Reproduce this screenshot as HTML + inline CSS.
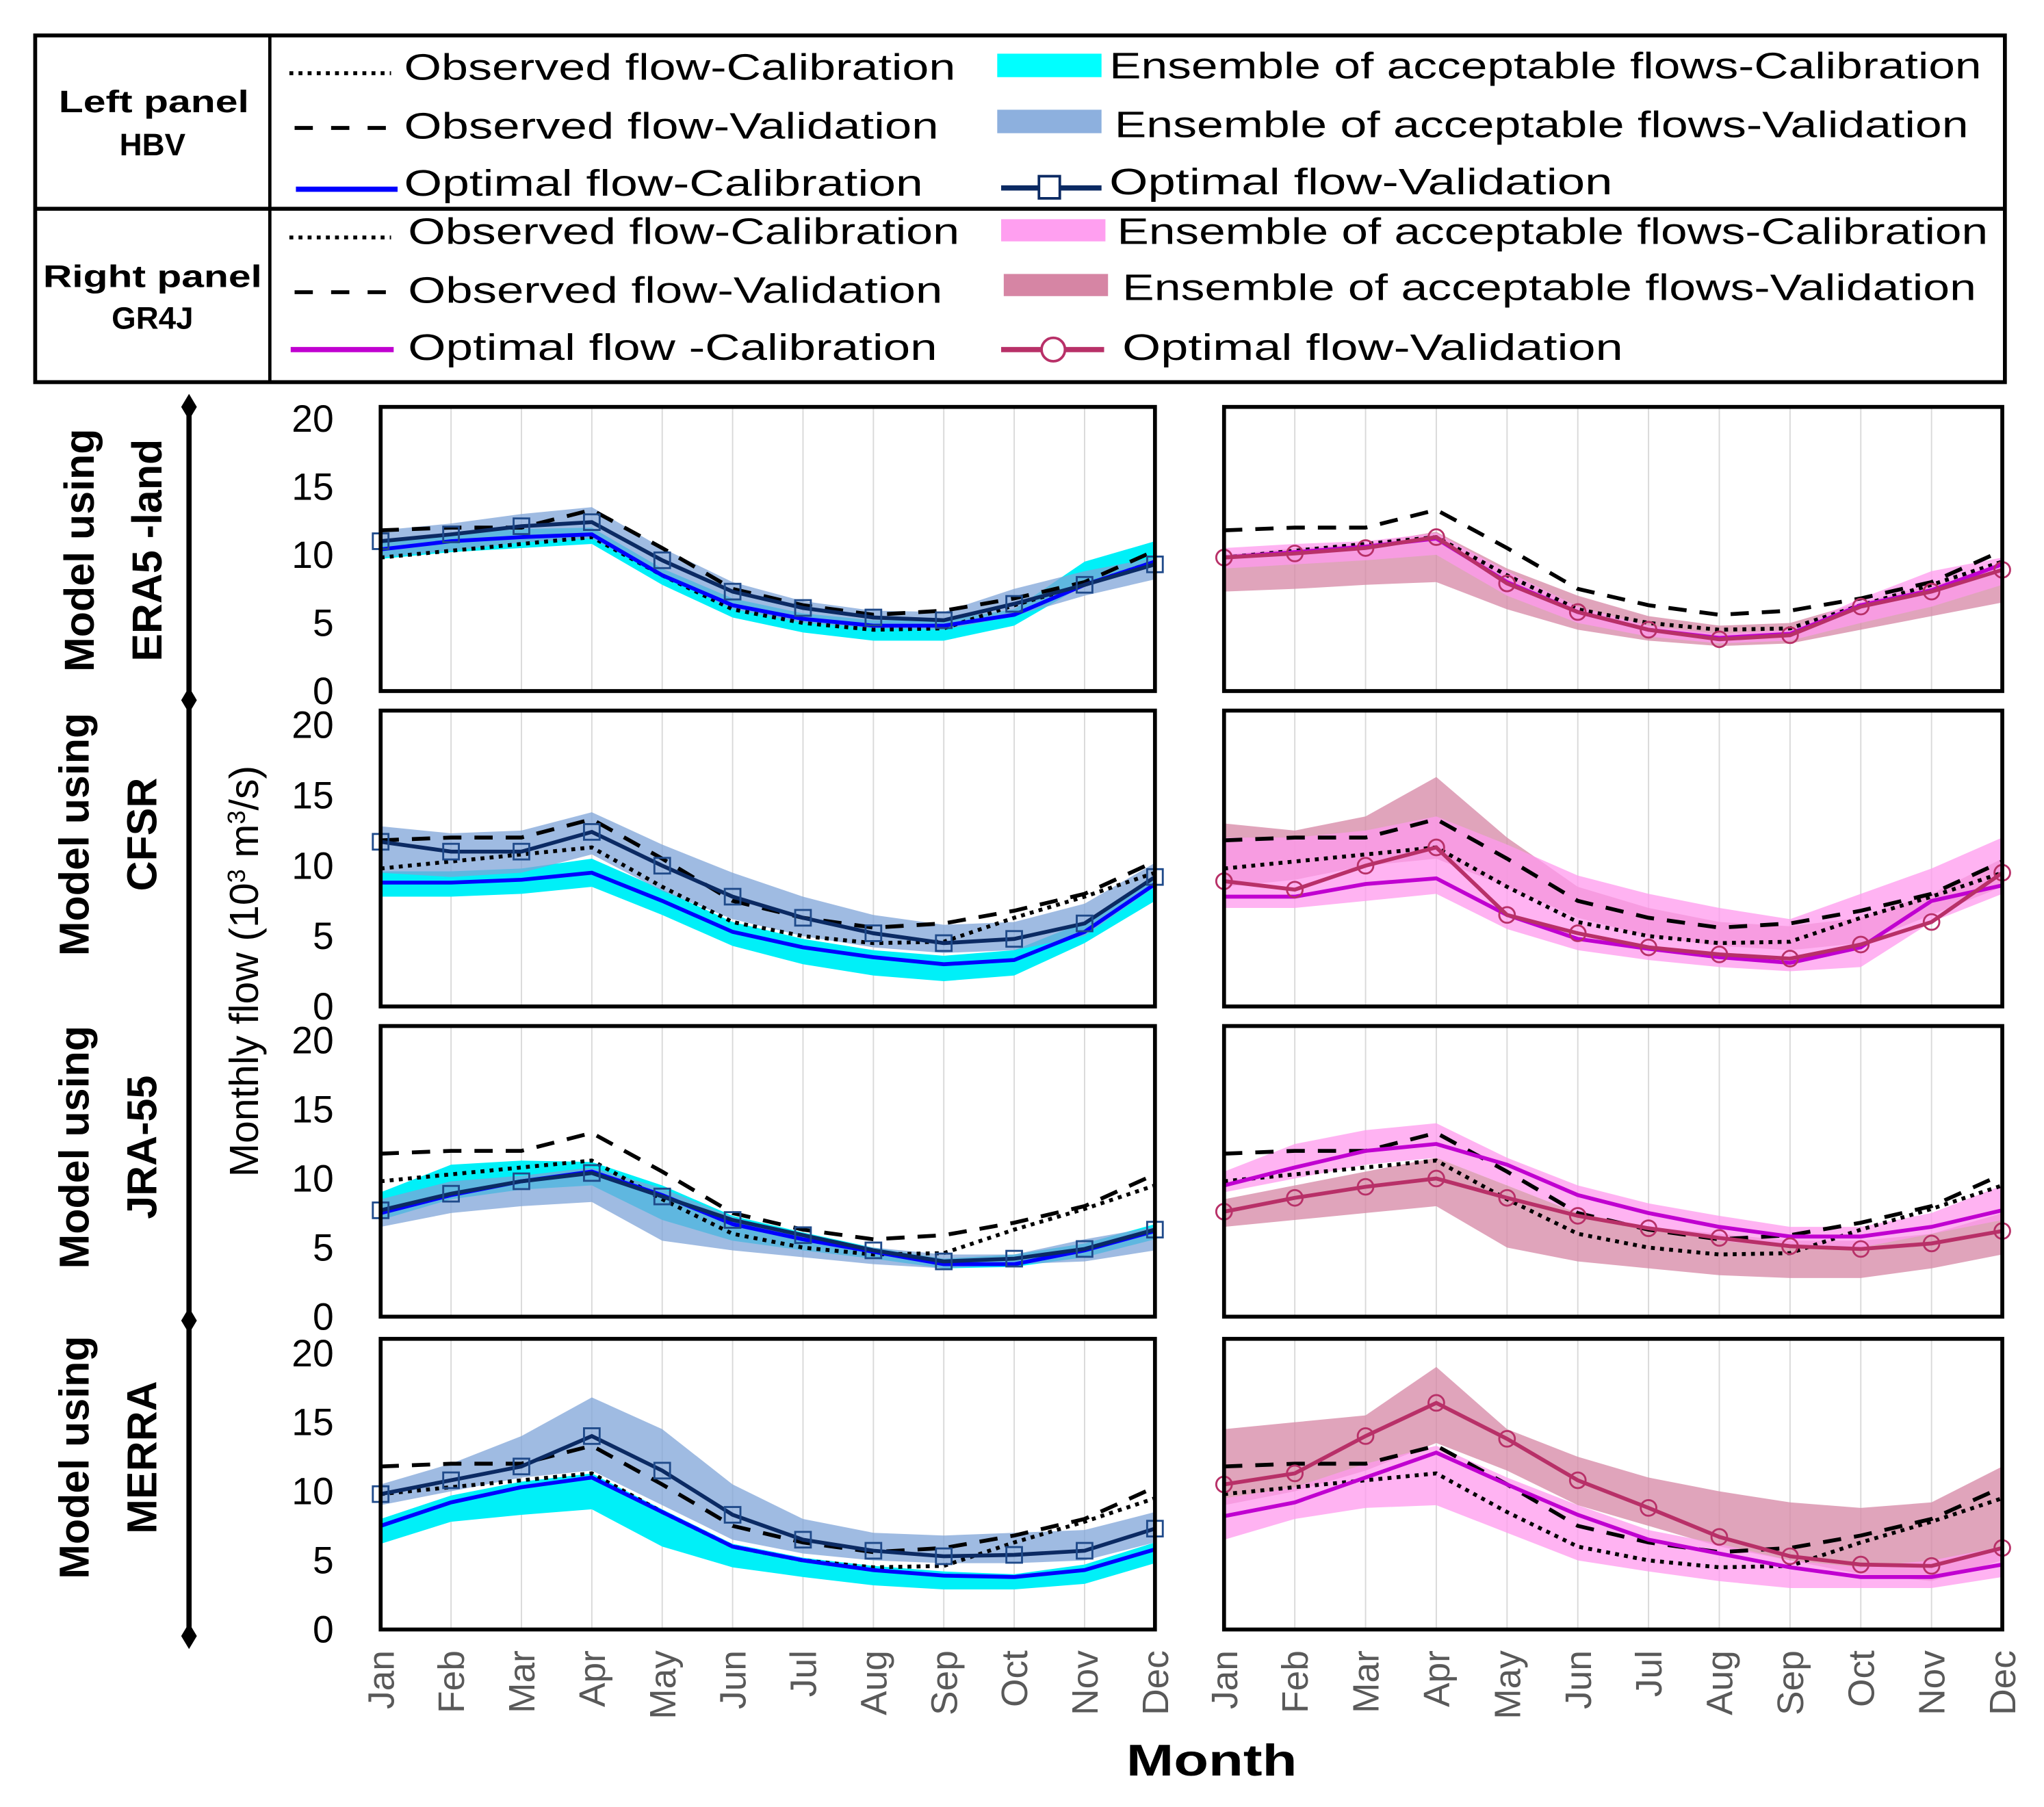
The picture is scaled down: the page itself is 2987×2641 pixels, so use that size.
<!DOCTYPE html>
<html><head><meta charset="utf-8"><style>
html,body{margin:0;padding:0;background:#fff}
svg{display:block}
text{font-family:"Liberation Sans",sans-serif}
</style></head><body>
<svg id="chart" width="2987" height="2641" viewBox="0 0 1568 1386" xmlns="http://www.w3.org/2000/svg">
<g id="legend">
<rect x="27" y="27" width="1511" height="266" fill="#fff" stroke="#000" stroke-width="3"/>
<line x1="27" y1="160" x2="1538" y2="160" stroke="#000" stroke-width="3"/>
<line x1="207" y1="27" x2="207" y2="293" stroke="#000" stroke-width="2.5"/>
<text x="45" y="86" font-size="24" font-weight="bold" textLength="146" lengthAdjust="spacingAndGlyphs">Left panel</text>
<text x="117" y="119" font-size="24" font-weight="bold" text-anchor="middle">HBV</text>
<text x="33" y="220" font-size="24" font-weight="bold" textLength="168" lengthAdjust="spacingAndGlyphs">Right panel</text>
<text x="117" y="252" font-size="24" font-weight="bold" text-anchor="middle">GR4J</text>
<g font-size="28">
<line x1="222" y1="56" x2="300" y2="56" stroke="#000" stroke-width="3" stroke-dasharray="3,4"/>
<text x="310" y="61" textLength="423" lengthAdjust="spacingAndGlyphs">Observed flow-Calibration</text>
<line x1="226" y1="98" x2="296" y2="98" stroke="#000" stroke-width="3" stroke-dasharray="14,14"/>
<text x="310" y="106" textLength="410" lengthAdjust="spacingAndGlyphs">Observed flow-Validation</text>
<line x1="227" y1="145" x2="305" y2="145" stroke="#0000ff" stroke-width="4"/>
<text x="310" y="150" textLength="398" lengthAdjust="spacingAndGlyphs">Optimal flow-Calibration</text>
<rect x="765" y="41" width="80" height="18" fill="#00ffff"/>
<text x="851" y="60" textLength="669" lengthAdjust="spacingAndGlyphs">Ensemble of acceptable flows-Calibration</text>
<rect x="765" y="84" width="80" height="18" fill="#8db0de"/>
<text x="855" y="105" textLength="655" lengthAdjust="spacingAndGlyphs">Ensemble of acceptable flows-Validation</text>
<line x1="768" y1="144" x2="845" y2="144" stroke="#0b2a63" stroke-width="4"/>
<rect x="797" y="135" width="16" height="17" fill="#fff" stroke="#0b2a63" stroke-width="2"/>
<text x="851" y="149" textLength="386" lengthAdjust="spacingAndGlyphs">Optimal flow-Validation</text>
<line x1="222" y1="182" x2="300" y2="182" stroke="#000" stroke-width="3" stroke-dasharray="3,4"/>
<text x="313" y="187" textLength="423" lengthAdjust="spacingAndGlyphs">Observed flow-Calibration</text>
<line x1="226" y1="224" x2="296" y2="224" stroke="#000" stroke-width="3" stroke-dasharray="14,14"/>
<text x="313" y="232" textLength="410" lengthAdjust="spacingAndGlyphs">Observed flow-Validation</text>
<line x1="223" y1="268" x2="302" y2="268" stroke="#c000d0" stroke-width="4"/>
<text x="313" y="276" textLength="406" lengthAdjust="spacingAndGlyphs">Optimal flow -Calibration</text>
<rect x="768" y="168" width="80" height="17" fill="#ff9ff0"/>
<text x="857" y="187" textLength="668" lengthAdjust="spacingAndGlyphs">Ensemble of acceptable flows-Calibration</text>
<rect x="770" y="210" width="80" height="17" fill="#d685a4"/>
<text x="861" y="230" textLength="655" lengthAdjust="spacingAndGlyphs">Ensemble of acceptable flows-Validation</text>
<line x1="768" y1="268" x2="847" y2="268" stroke="#b83068" stroke-width="4"/>
<circle cx="808" cy="268" r="9" fill="#fff" stroke="#b83068" stroke-width="2"/>
<text x="861" y="276" textLength="384" lengthAdjust="spacingAndGlyphs">Optimal flow-Validation</text>
</g>
</g>
<g id="side">
<line x1="145" y1="312" x2="145" y2="1255" stroke="#000" stroke-width="4"/>
<g fill="#000"><path d="M145 302l6 10-6 10-6-10z"/><path d="M145 527l6 10-6 10-6-10z"/><path d="M145 1003l6 10-6 10-6-10z"/><path d="M145 1245l6 10-6 10-6-10z"/></g>
<g font-size="32" font-weight="bold" text-anchor="middle">
<text transform="translate(72,422) rotate(-90)">Model using</text><text transform="translate(124,422) rotate(-90)">ERA5 -land</text>
<text transform="translate(68,640) rotate(-90)">Model using</text><text transform="translate(120,640) rotate(-90)">CFSR</text>
<text transform="translate(68,880) rotate(-90)">Model using</text><text transform="translate(120,880) rotate(-90)">JRA-55</text>
<text transform="translate(68,1118) rotate(-90)">Model using</text><text transform="translate(120,1118) rotate(-90)">MERRA</text>
</g>
<text transform="translate(198,745) rotate(-90)" font-size="31" text-anchor="middle">Monthly flow (10<tspan font-size="19" dy="-10">3</tspan><tspan dy="10"> m</tspan><tspan font-size="19" dy="-10">3</tspan><tspan dy="10">/s)</tspan></text>
<text x="864" y="1362" font-size="34" font-weight="bold" textLength="131" lengthAdjust="spacingAndGlyphs">Month</text>
</g>
<g id="panels"></g>
</svg>
<script>
const months=["Jan","Feb","Mar","Apr","May","Jun","Jul","Aug","Sep","Oct","Nov","Dec"];
const yTicks=[0,5,10,15,20];
const obsCal=[9.8,10.3,10.8,11.3,8.5,6,5,4.5,4.6,6.3,7.8,9.5];
const obsVal=[11.8,12,12,13.3,10.5,7.5,6.3,5.6,5.9,6.8,8,10.3];
// Left (HBV) rows
const hbvOptCal=[[10.4,11,11.3,11.5,8.5,6.3,5.3,4.8,4.8,5.6,7.8,9.5],[8.8,8.8,9,9.5,7.5,5.3,4.2,3.5,3,3.3,5.3,8.7],[7.5,8.8,9.8,10.5,8.8,6.7,5.6,4.7,3.8,3.8,4.8,6.2],[7.5,9.2,10.3,11,8.5,6,5,4.3,3.9,3.8,4.3,5.8]];
const hbvOptVal=[[11,11.5,12.1,12.4,9.6,7.3,6.1,5.4,5.2,6.4,7.8,9.3],[11.7,11,11,12.4,10,7.8,6.3,5.2,4.5,4.8,5.9,9.2],[7.7,8.9,9.8,10.4,8.7,7,5.9,4.8,4,4.2,4.9,6.3],[9.8,10.8,11.8,14,11.5,8.3,6.5,5.7,5.3,5.4,5.7,7.3]];
const hbvCalLo=[[9.7,10.2,10.5,10.8,7.8,5.4,4.3,3.7,3.7,4.8,7.8,9.2],[7.8,7.8,8,8.5,6.5,4.3,3,2.2,1.8,2.2,4.5,7.5],[7,8.5,9.2,9.5,7,5.5,4.8,4.2,3.5,3.6,4.3,5.6],[6.2,7.8,8.3,8.7,6,4.5,3.8,3.2,2.9,2.9,3.3,4.8]];
const hbvCalHi=[[11,11.5,11.9,12,9,6.8,5.7,5.2,5.2,6,9.5,11],[9.6,9.6,9.8,10.5,8.3,6,4.8,4,3.6,4,6,9],[9,11,11.3,11.2,9.5,7.3,6.1,5,4.2,4.5,5.3,6.7],[8,9.7,10.7,11.3,8.7,6.2,5.2,4.6,4.2,4,4.7,6.3]];
const hbvValLo=[[9.8,10.3,10.9,11.2,8.5,6,5,4.6,4.5,5.5,7,8.2],[9.5,9.2,9.5,10.8,8.2,6.2,5,4.2,3.8,4,5,8.5],[6.5,7.5,8,8.3,5.5,4.8,4.3,3.8,3.5,3.8,4,4.8],[9,10,11,11.5,9,6.5,5.5,5,4.8,4.8,5,6.3]];
const hbvValHi=[[11.8,12.3,13,13.5,10.5,8,6.6,5.9,5.8,7.5,8.8,9.8],[12.8,12.3,12.5,13.8,11.5,9.5,7.8,6.5,5.8,6,7.3,10.2],[8.5,9.8,10.2,10.8,9.3,7.2,5.9,5,4.5,4.5,5.6,6.5],[10.5,12,14,16.8,14.5,10.5,8,7,6.8,7,7.2,8.5]];
// Right (GR4J) rows
const grOptCal=[[9.8,10.2,10.6,11.2,8,5.8,4.5,3.9,4.2,6.3,7.4,9.3],[7.8,7.8,8.7,9.1,6.5,4.8,4.1,3.5,3.1,4.2,7.5,8.6],[9.5,10.8,12,12.5,11,8.8,7.5,6.5,5.8,5.8,6.5,7.7],[8.2,9.2,11,12.8,10.5,8.3,6.5,5.5,4.5,3.8,3.8,4.7]];
const grOptVal=[[9.8,10.1,10.5,11.3,7.9,5.8,4.5,3.8,4.1,6.2,7.3,8.9],[8.9,8.3,10,11.3,6.5,5.2,4.2,3.7,3.4,4.4,6,9.5],[7.6,8.6,9.4,10,8.6,7.3,6.4,5.7,5.1,4.9,5.3,6.2],[10.5,11.3,14,16.4,13.8,10.8,8.8,6.7,5.3,4.7,4.6,5.9]];
const grCalLo=[[9,9.3,9.6,10,7,5,4,3.5,3.7,5,6.2,7.8],[7,7,7.5,8,5.5,4,3.3,2.8,2.5,2.8,6,8],[9,10,11,11.5,9.5,7.5,6.5,5.5,5,5,6,7],[6.5,8,8.8,9,7,5,4.2,3.5,3,3,3,3.8]];
const grCalHi=[[10.5,10.8,11,11.6,8.8,6.2,4.8,4.2,4.5,6.8,8.8,9.8],[12,12,12.5,13.5,11.5,9.3,8,7,6.2,8,9.8,12],[10.5,12.5,13.5,14,11.5,9.5,8.2,7.3,6.5,6.5,7.5,9.5],[9.5,10.3,12,13.3,11,9,7.2,6.2,5,4.5,5,6]];
const grValLo=[[7.3,7.5,7.8,8,6,4.5,3.7,3.3,3.5,4.5,5.5,6.5],[8.5,9,10,10.5,8.5,6.3,5,4.3,4,4.5,6.5,8.5],[6.5,7,7.5,8,5,4,3.5,3,2.8,2.8,3.5,4.5],[9,10,11.5,13.5,11.5,9,7.5,6,5,4,3.5,5]];
const grValHi=[[10,10.5,10.8,11.7,9,7,5.5,4.8,5,6.5,7.8,8.8],[13,12.5,13.5,16.3,12,8.5,7,6,5.7,6.3,8,10.5],[8.5,9.5,10.5,11.5,9.5,7.5,6.5,6,5.5,5.5,6,7.5],[14.5,15,15.5,19,14.5,12.5,11,10,9.2,8.8,9.2,11.8]];

const NS="http://www.w3.org/2000/svg";
const root=document.getElementById('panels');
function mk(tag,attrs,parent){const e=document.createElementNS(NS,tag);for(const k in attrs)e.setAttribute(k,attrs[k]);(parent||root).appendChild(e);return e;}
const rowsY=[[312,530,321],[545,772,556],[787,1010,798],[1027,1250,1038]];
const cols=[[292,886],[939,1536]];
rowsY.forEach((ry,r)=>{
 cols.forEach((cx,c)=>{
  const g=mk('g',{});
  
  
  const x0=cx[0],x1=cx[1],top=ry[0],y0=ry[1],y20=ry[2];
  const X=i=>x0+i*(x1-x0)/11;
  const Y=v=>y0-(v/20)*(y0-y20);
  mk('rect',{x:x0,y:top,width:x1-x0,height:y0-top,fill:'#fff'},g);
  months.forEach((m,i)=>{if(i>0&&i<11)mk('line',{x1:X(i),x2:X(i),y1:top,y2:y0,stroke:'#d9d9d9','stroke-width':1},g);});
  const bands=c?[[grValLo,grValHi,'#d685a4',0.75],[grCalLo,grCalHi,'#ff99ee',0.75]]:[[hbvCalLo,hbvCalHi,'#00f0f8',1],[hbvValLo,hbvValHi,'#7fa4d8',0.75]];
  bands.forEach((b,bi)=>{
   const lo=b[0][r],hi=b[1][r];
   let d='M'+hi.map((v,i)=>X(i)+','+Y(v)).join('L')+'L'+lo.map((v,i)=>[X(i),Y(v)]).reverse().map(p=>p.join(',')).join('L')+'Z';
   const p=mk('path',{d:d,fill:b[2],'fill-opacity':b[3]},g);
   
   
  });
  const line=(arr,col,w,dash,name)=>{const p=mk('polyline',{points:arr.map((v,i)=>X(i)+','+Y(v)).join(' '),fill:'none',stroke:col,'stroke-width':w,'stroke-dasharray':dash||'none'},g);
   
   };
  line(obsVal,'#000',3,'14,10','observed-validation-line');
  line(obsCal,'#000',3,'3,4','observed-calibration-line');
  line(c?grOptCal[r]:hbvOptCal[r],c?'#c000d0':'#0000ff',3,null,'optimal-calibration-line');
  const ov=c?grOptVal[r]:hbvOptVal[r];
  line(ov,c?'#b83068':'#0b2a63',3,null,'optimal-validation-line');
  ov.forEach((v,i)=>{
   let m;
   if(c)m=mk('circle',{cx:X(i),cy:Y(v),r:6,fill:'none',stroke:'#b83068','stroke-width':1.5},g);
   else m=mk('rect',{x:X(i)-6,y:Y(v)-6,width:12,height:12,fill:'none',stroke:'#1f4a8a','stroke-width':1.5},g);
   
   
  });
  mk('rect',{x:x0,y:top,width:x1-x0,height:y0-top,fill:'none',stroke:'#000','stroke-width':3},g);
  if(c===0){yTicks.forEach(t=>{const tx=mk('text',{x:256,y:Y(t)+10,'font-size':29,'text-anchor':'end'},g);tx.textContent=t;
   
   });}
  if(r===3){months.forEach((m,i)=>{const tx=mk('text',{transform:'translate('+(X(i)+10)+',1266) rotate(-90)','font-size':28,'text-anchor':'end',fill:'#595959'},g);tx.textContent=m;
   
   });}
 });
});
</script>
</body></html>
